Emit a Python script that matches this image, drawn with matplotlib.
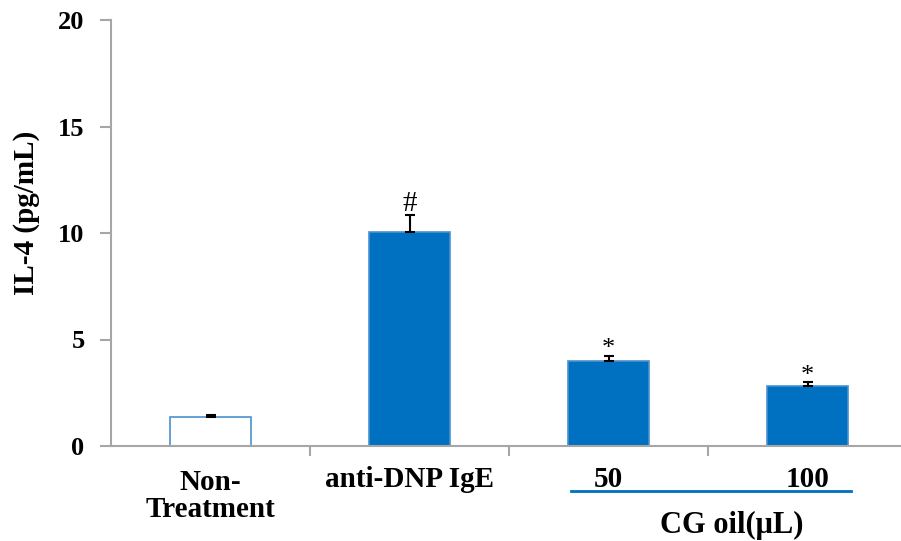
import numpy as np
import matplotlib.pyplot as plt

groups = ['Non-\nTreatment', 'anti-DNP IgE', '50', '100']
values = [1.36, 10.06, 3.98, 2.82]
errors = [0.11, 0.8, 0.25, 0.17]
marks = ['', '#', '*', '*']
yticks = [0, 5, 10, 15, 20]

blue = '#0070C0'
edge = '#4A90D0'
gray = '#A6A6A6'

plt.rcParams['font.family'] = ['Liberation Serif', 'DejaVu Serif']
plt.rcParams['font.weight'] = 'bold'

fig = plt.figure(figsize=(9.01, 5.41), dpi=100)
ax = fig.add_axes([111 / 901, 95 / 541, 796 / 901, 426 / 541])

x = np.arange(len(values))
faces = ['white', blue, blue, blue]
ax.bar(x, values, width=0.41, color=faces, edgecolor=edge, linewidth=1.2, zorder=2)
ax.errorbar(x, values, yerr=[np.zeros(len(errors)), errors], fmt='none',
            ecolor='black', elinewidth=1.5, capsize=3.5, capthick=1.5, zorder=3)

for xi, v, e, m in zip(x, values, errors, marks):
    if m == '#':
        ax.text(xi, v + e + 0.17, m, ha='center', va='baseline', fontsize=21,
                fontweight='normal')
    elif m:
        ax.text(xi, v + e + 0.02, m, ha='center', va='baseline', fontsize=19,
                fontweight='normal')

ax.set_xlim(-0.5, 3.5)
ax.set_ylim(0, 20)
ax.set_yticks(yticks)
ax.set_yticklabels([str(t) for t in yticks], fontsize=19, fontweight='bold')
ax.set_xticks([0.5, 1.5, 2.5])
ax.set_xticklabels([])
ax.tick_params(axis='both', color=gray, width=1.5, direction='out')
ax.tick_params(axis='y', length=8, pad=11)
ax.tick_params(axis='x', length=7)

for s in ['top', 'right']:
    ax.spines[s].set_visible(False)
for s in ['left', 'bottom']:
    ax.spines[s].set_color(gray)
    ax.spines[s].set_linewidth(1.5)

fig.text(27 / 901, 1 - 213 / 541, 'IL-4 (pg/mL)', rotation=90, ha='center',
         va='center', fontsize=21, fontweight='bold')

# category labels under the axis (baseline of the last line)
for xi, g in zip(x, groups):
    ax.text(xi, -1.92 - 1.41 * g.count('\n'), g, ha='center', va='baseline',
            fontsize=21, fontweight='bold', linespacing=1.0)

# bracket line for CG oil doses
ax.plot([1.81, 3.22], [-2.1, -2.1], color=blue, linewidth=2, clip_on=False)
ax.text(2.62, -4.08, 'CG oil(\u03bcL)', ha='center', va='baseline', fontsize=22,
        fontweight='bold')

fig.savefig('out.png', dpi=100)
